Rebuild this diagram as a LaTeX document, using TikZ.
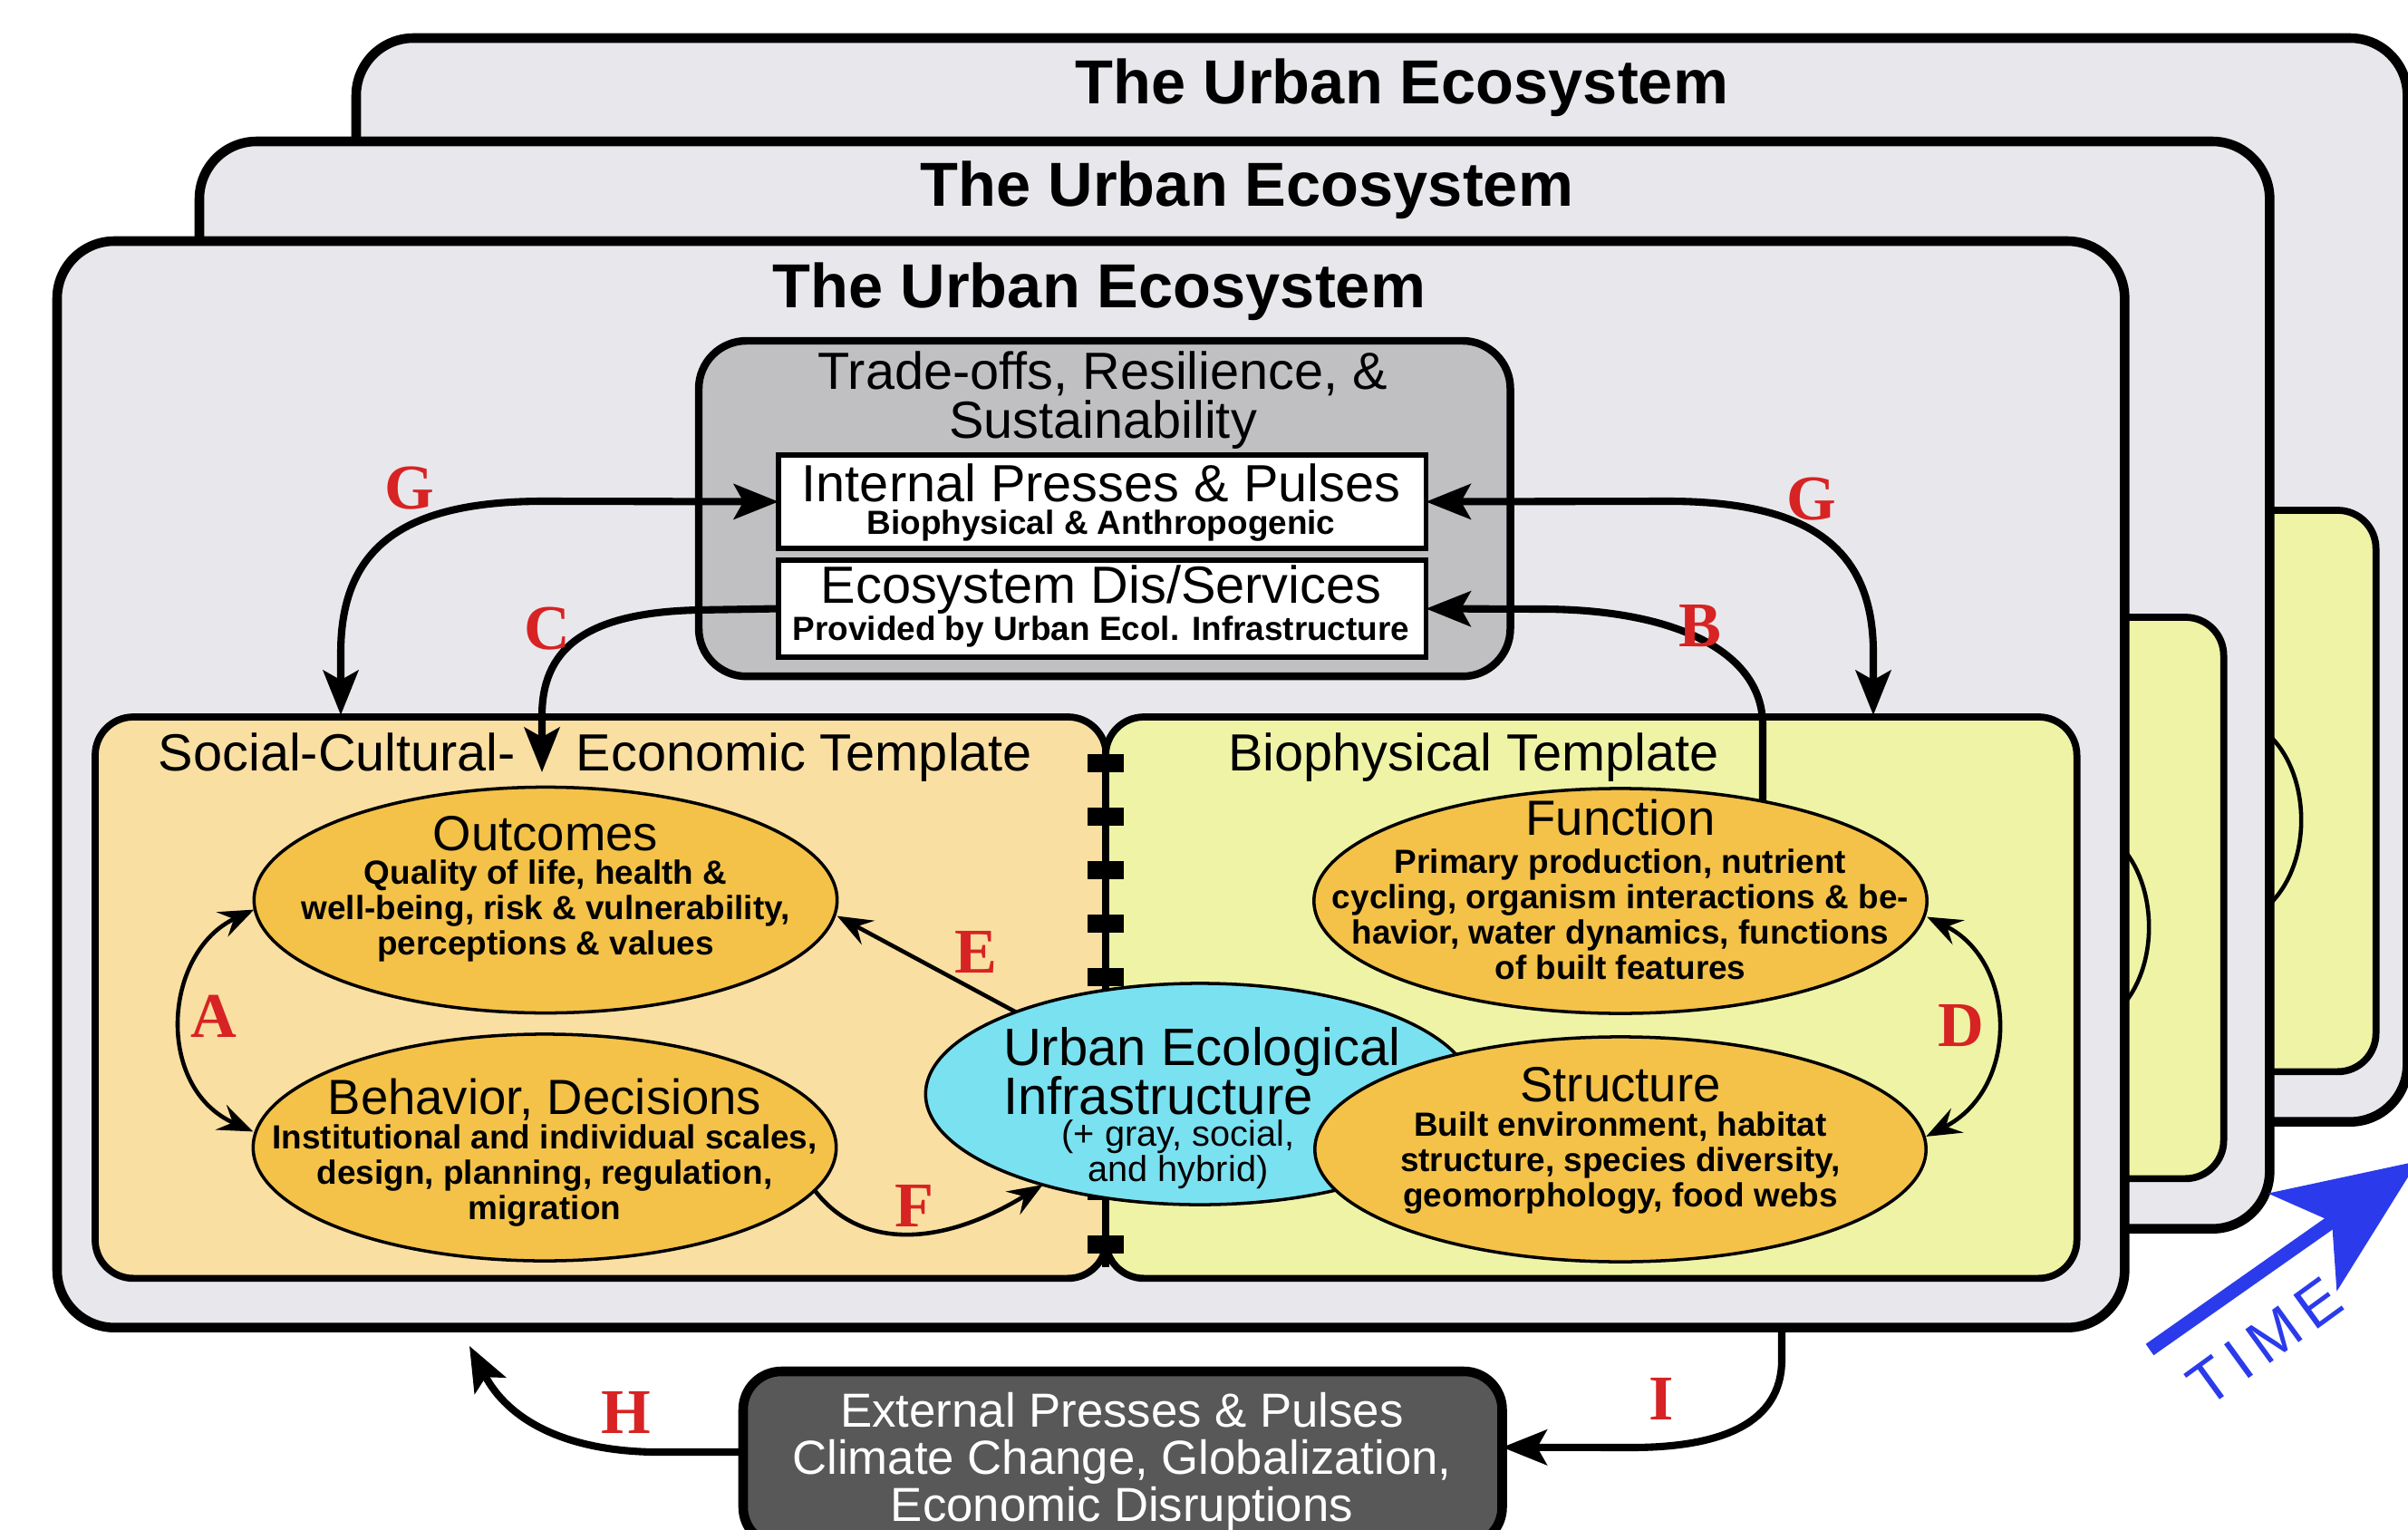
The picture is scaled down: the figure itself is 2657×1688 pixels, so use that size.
\documentclass[tikz,border=0pt]{standalone}
\usepackage{fontspec}
\setmainfont{Liberation Sans}
\newfontfamily\labfont{Liberation Serif}
\newfontfamily\timefont[LetterSpace=15.0]{Liberation Sans}
\usetikzlibrary{arrows.meta,shapes.geometric}
\definecolor{boxgray}{RGB}{232,232,236}
\definecolor{tradegray}{RGB}{192,192,195}
\definecolor{beige}{RGB}{250,223,162}
\definecolor{ylw}{RGB}{239,243,166}
\definecolor{orng}{RGB}{244,194,72}
\definecolor{cyn}{RGB}{122,225,240}
\definecolor{extgray}{RGB}{88,88,88}
\definecolor{lblred}{RGB}{215,35,35}
\definecolor{timeblue}{RGB}{43,59,235}
\setlength{\lineskiplimit}{-40pt}
\begin{document}
\begin{tikzpicture}[x=0.01cm,y=-0.01cm,
  every node/.style={inner sep=0pt, outer sep=0pt},
  layerbox/.style={draw, line width=3pt, fill=boxgray, rounded corners=18pt, anchor=north west},
  tmpl/.style={draw, line width=2.2pt, rounded corners=12pt, anchor=north west},
  whitebox/.style={draw, line width=1.6pt, fill=white, anchor=north west},
  ell/.style={ellipse, draw, line width=1pt, fill=orng},
  ttl/.style={font=\bfseries\fontsize{19.5}{22}\selectfont},
  hd/.style={font=\fontsize{16.4}{15.4}\selectfont, align=center},
  etitle/.style={font=\fontsize{15.5}{17}\selectfont},
  sbold/.style={font=\bfseries\fontsize{10.5}{11.1}\selectfont, align=center},
  lbl/.style={font=\labfont\bfseries\fontsize{20}{22}\selectfont, text=lblred},
  bigarrow/.style={line width=2.3pt, -{Stealth[length=14pt,width=11pt,inset=3pt]}},
  bigboth/.style={line width=2.3pt, {Stealth[length=14pt,width=11pt,inset=3pt]}-{Stealth[length=14pt,width=11pt,inset=3pt]}},
  thinarrow/.style={line width=1.3pt, -{Stealth[length=11pt,width=8.5pt,inset=4pt]}},
  thinboth/.style={line width=1.3pt, {Stealth[length=11pt,width=8.5pt,inset=4pt]}-{Stealth[length=11pt,width=8.5pt,inset=4pt]}}
]
\useasboundingbox (0,0) rectangle (2657,1688);
\clip (0,0) rectangle (2657,1688);
\fill[white] (0,0) rectangle (2657,1688);

% ---------- back layer ----------
\node[layerbox, minimum width=22.62cm, minimum height=11.95cm] (backbox) at (393,42) {};
\node[ttl] (backtitle) at (1547,97) {The Urban Ecosystem};
\node[tmpl, fill=ylw, minimum width=10.71cm, minimum height=6.19cm] (backbio) at (1550,563) {};
\coordinate (db1) at (2464,788);
\coordinate (db2) at (2464,1023);
\draw[thinboth] (db1) .. controls (2555,832) and (2560,972) .. (db2);

% ---------- middle layer ----------
\node[layerbox, minimum width=22.83cm, minimum height=11.99cm] (midbox) at (220,156) {};
\node[ttl] (midtitle) at (1376,210) {The Urban Ecosystem};
\node[tmpl, fill=ylw, minimum width=10.71cm, minimum height=6.19cm] (midbio) at (1382,681) {};
\coordinate (dm1) at (2296,906);
\coordinate (dm2) at (2296,1141);
\draw[thinboth] (dm1) .. controls (2387,950) and (2392,1090) .. (dm2);

% ---------- front layer ----------
\node[layerbox, minimum width=22.80cm, minimum height=11.98cm] (frontbox) at (63,266) {};
\node[ttl] (fronttitle) at (1213,322) {The Urban Ecosystem};

% trade-offs box
\node[draw, line width=2.4pt, fill=tradegray, rounded corners=15pt, anchor=north west,
      minimum width=8.95cm, minimum height=3.70cm] (trade) at (771,376) {};
\node[hd] (tradetext) at (1217,442) {Trade-offs, Resilience, \&\\Sustainability};
\node[whitebox, minimum width=7.14cm, minimum height=1.03cm] (internal) at (859,502) {};
\node[hd] (inttitle) at (1215,533) {Internal Presses \& Pulses};
\node[sbold] (intsub) at (1215,580) {Biophysical \& Anthropogenic};
\node[whitebox, minimum width=7.14cm, minimum height=1.07cm] (eco) at (859,618) {};
\node[hd] (ecotitle) at (1215,651) {Ecosystem Dis/Services};
\node[sbold] (ecosub) at (1215,697) {Provided by Urban Ecol. Infrastructure};

% templates
\node[tmpl, fill=beige, minimum width=11.15cm, minimum height=6.19cm] (social) at (105,791) {};
\node[tmpl, fill=ylw, minimum width=10.71cm, minimum height=6.19cm] (bio) at (1220,791) {};
\node[hd] (socialtitle) at (657,836) {Social-Cultural-\hspace{19pt}Economic Template};
\node[hd] (biotitle) at (1626,836) {Biophysical Template};

% zipper divider
\draw[line width=2.3pt] (1220,827) -- (1220,1398);
\foreach \k in {0,...,9} { \fill (1200,832+59*\k) rectangle (1240,852+59*\k); }

% ellipses
\node[ell, fill=cyn, minimum width=6.05cm, minimum height=2.44cm] (uei) at (1324,1207) {};
\node[anchor=west, align=left, font=\fontsize{16.5}{15.4}\selectfont] (ueititle) at (1107,1182) {Urban Ecological\\Infrastructure};
\node[align=center, font=\fontsize{11.3}{11.1}\selectfont] (ueisub) at (1300,1274) {(+ gray, social,\\and hybrid)};

\node[ell, minimum width=6.76cm, minimum height=2.48cm] (func) at (1788,994) {};
\node[etitle] (functitle) at (1788,902) {Function};
\node[sbold] (funcbody) at (1788,1009) {Primary production, nutrient\\cycling, organism interactions \& be-\\havior, water dynamics, functions\\of built features};

\node[ell, minimum width=6.74cm, minimum height=2.48cm] (struct) at (1788,1268) {};
\node[etitle] (structtitle) at (1788,1197) {Structure};
\node[sbold] (structbody) at (1788,1283) {Built environment, habitat\\structure, species diversity,\\geomorphology, food webs};

\node[ell, minimum width=6.43cm, minimum height=2.49cm] (outc) at (602,993) {};
\node[etitle] (outctitle) at (602,920) {Outcomes};
\node[sbold] (outcbody) at (602,1005) {Quality of life, health \&\\well-being, risk \& vulnerability,\\perceptions \& values};

\node[ell, minimum width=6.43cm, minimum height=2.50cm] (behav) at (601,1266) {};
\node[etitle] (behavtitle) at (601,1213) {Behavior, Decisions};
\node[sbold] (behavbody) at (601,1297) {Institutional and individual scales,\\design, planning, regulation,\\migration};

% connector end points
\coordinate (gL) at (376,789);
\coordinate (gR) at (2067,789);
\coordinate (cT) at (598,852);
\coordinate (hT) at (518,1485);
\coordinate (iS) at (1966,1466);

% thick arrows
\draw[bigboth] (gL) -- (376,720) .. controls (376,600) and (450,553) .. (600,553) -- (internal.west);
\draw[bigboth] (gR) -- (2067,720) .. controls (2067,600) and (1990,553) .. (1840,553) -- (internal.east);
\draw[bigarrow] (eco.west) -- (770,673) .. controls (640,676) and (598,720) .. (598,790) -- (cT);
\draw[bigarrow] (func.35) -- (1945,800) .. controls (1945,720) and (1850,672) .. (1700,672) -- (eco.east);

% thin arrows
\draw[thinboth] ([yshift=-3pt]outc.west) .. controls (180,1050) and (170,1200) .. ([yshift=5pt]behav.west);
\draw[thinboth] ([yshift=-5pt]func.east) .. controls (2225,1060) and (2230,1200) .. ([yshift=4pt]struct.east);
\draw[thinarrow] (uei.156) -- ([yshift=-5pt]outc.east);
\draw[thinarrow] (behav.-9) .. controls (950,1380) and (1040,1375) .. (uei.210);

% labels
\node[lbl] (lG1) at (452,539) {G};
\node[lbl] (lG2) at (1999,551) {G};
\node[lbl] (lC) at (604,694) {C};
\node[lbl] (lB) at (1876,691) {B};
\node[lbl] (lA) at (236,1121) {A};
\node[lbl] (lD) at (2164,1132) {D};
\node[lbl] (lE) at (1077,1050) {E};
\node[lbl] (lF) at (1009,1330) {F};

% external box
\node[draw, line width=3pt, fill=extgray, rounded corners=12pt, anchor=north west,
      minimum width=8.37cm, minimum height=1.92cm] (ext) at (820,1513) {};
\node[align=center, text=white, font=\fontsize{15}{14.8}\selectfont] (exttext) at (1238,1613)
  {External Presses \& Pulses\\Climate Change, Globalization,\\Economic Disruptions};
\draw[bigarrow] ([yshift=2pt]ext.west) -- (720,1602) .. controls (620,1600) and (560,1565) .. (hT);
\draw[bigarrow] (iS) -- (1966,1500) .. controls (1966,1570) and (1900,1597) .. (1800,1597) -- ([yshift=3.5pt]ext.east);
\node[lbl] (lH) at (691,1558) {H};
\node[lbl] (lI) at (1833,1543) {I};

% time arrow
\coordinate (tS) at (2372,1489);
\coordinate (tE) at (2668,1281);
\draw[timeblue, line width=4.3pt, -{Stealth[length=44pt,width=37pt,inset=11pt]}] (tS) -- (tE);
\node[text=timeblue, rotate=36, font=\timefont\fontsize{19}{20}\selectfont] (timelbl) at (2499,1480) {TIME};
\end{tikzpicture}
\end{document}
